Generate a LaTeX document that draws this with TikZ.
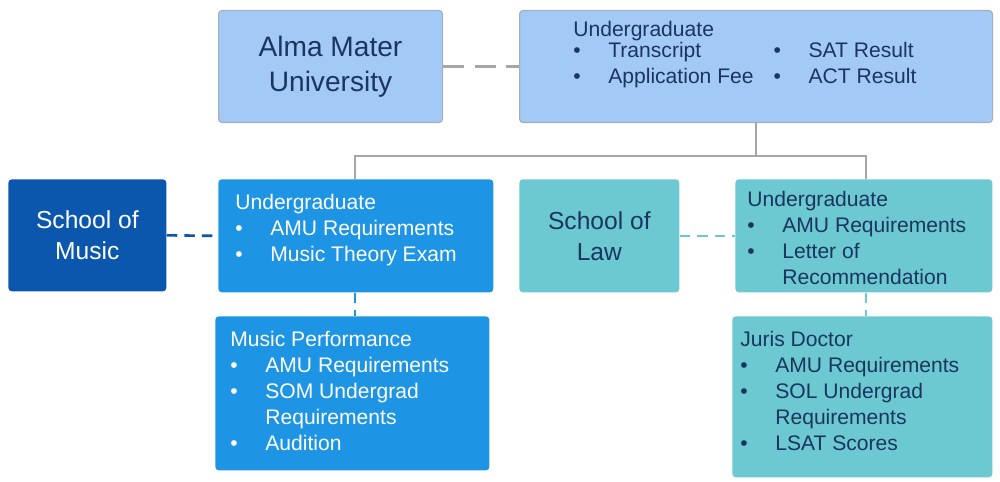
\documentclass[tikz,border=0pt]{standalone}
\usepackage{fontspec}
\setmainfont{Liberation Sans}
\definecolor{navy}{HTML}{1B3560}
\definecolor{paleblue}{HTML}{A3C9F7}
\definecolor{deepblue}{HTML}{0C57AE}
\definecolor{midblue}{HTML}{1E95E4}
\definecolor{teal}{HTML}{6CC9D1}
\definecolor{linegrey}{HTML}{A6A6A6}
\newcommand{\bul}{\makebox[0.7cm][l]{\textbullet}}
\tikzset{
  box/.style={rectangle, rounded corners=2pt, anchor=north west, inner sep=0pt},
  pale/.style={box, fill=paleblue, draw=linegrey!80!paleblue, line width=0.6pt, text=navy},
  deep/.style={box, fill=deepblue, text=white},
  mid/.style={box, fill=midblue, text=white},
  tealbox/.style={box, fill=teal, text=navy},
  list/.style={anchor=north west, inner sep=0pt, align=left, font=\fontsize{12}{14.8}\selectfont},
  big/.style={align=center, font=\fontsize{16}{20}\selectfont},
  mid font/.style={align=center, font=\fontsize{14}{17.5}\selectfont},
  link/.style={linegrey, line width=1.2pt}
}
\begin{document}
\begin{tikzpicture}[x=0.02cm, y=-0.02cm]
  \useasboundingbox (0,0) rectangle (1000,482);

  % top row
  \node[pale, big, minimum width=224*0.02cm, minimum height=112*0.02cm] (alma) at (218,10) {Alma Mater\\University};
  \node[pale, minimum width=473*0.02cm, minimum height=112*0.02cm] (ugTop) at (519,10) {};
  \node[list, text=navy] (ugTopText) at (573,21) {Undergraduate\\[-2pt]
    \begin{tabular}{@{}l@{\hspace{0.4cm}}l@{}}
      \bul Transcript & \bul SAT Result\\
      \bul Application Fee & \bul ACT Result
    \end{tabular}};

  % music
  \node[deep, mid font, minimum width=158*0.02cm, minimum height=112*0.02cm] (music) at (8,179) {School of\\Music};
  \node[mid, minimum width=275*0.02cm, minimum height=113*0.02cm] (ugMusic) at (218,179) {};
  \node[list, text=white] (ugMusicText) at (235,194) {Undergraduate\\
    \bul AMU Requirements\\ \bul Music Theory Exam};
  \node[mid, minimum width=274*0.02cm, minimum height=154*0.02cm] (perf) at (215,316) {};
  \node[list, text=white] (perfText) at (230,331) {Music Performance\\
    \bul AMU Requirements\\ \bul SOM Undergrad\\ \hspace*{0.7cm}Requirements\\ \bul Audition};

  % law
  \node[tealbox, mid font, minimum width=160*0.02cm, minimum height=113*0.02cm] (law) at (519,179) {School of\\Law};
  \node[tealbox, minimum width=257*0.02cm, minimum height=113*0.02cm] (ugLaw) at (735,179) {};
  \node[list, text=navy] (ugLawText) at (747,191) {Undergraduate\\
    \bul AMU Requirements\\ \bul Letter of\\ \hspace*{0.7cm}Recommendation};
  \node[tealbox, minimum width=260*0.02cm, minimum height=161*0.02cm] (jd) at (732,316) {};
  \node[list, text=navy] (jdText) at (740,331) {Juris Doctor\\
    \bul AMU Requirements\\ \bul SOL Undergrad\\ \hspace*{0.7cm}Requirements\\ \bul LSAT Scores};

  % connectors
  \draw[link, dashed, dash pattern=on 12pt off 6pt] (alma.east) -- (ugTop.west);
  \draw[link] (ugTop.south) -- ++(0,33) -| (ugMusic.north -| 355,0);
  \draw[link] (ugTop.south) ++(0,33) -| (ugLaw.north -| 866,0);
  \draw[deepblue, line width=1.5pt, dashed, dash pattern=on 6pt off 4pt] (music.east) -- (ugMusic.west);
  \draw[midblue, line width=1.5pt, dashed, dash pattern=on 6pt off 4pt] (ugMusic.south -| 355,0) -- (perf.north -| 355,0);
  \draw[teal, line width=1.5pt, dashed, dash pattern=on 6pt off 4pt] (law.east) -- (ugLaw.west);
  \draw[teal, line width=1.5pt, dashed, dash pattern=on 6pt off 4pt] (ugLaw.south -| 866,0) -- (jd.north -| 866,0);
\end{tikzpicture}
\end{document}
